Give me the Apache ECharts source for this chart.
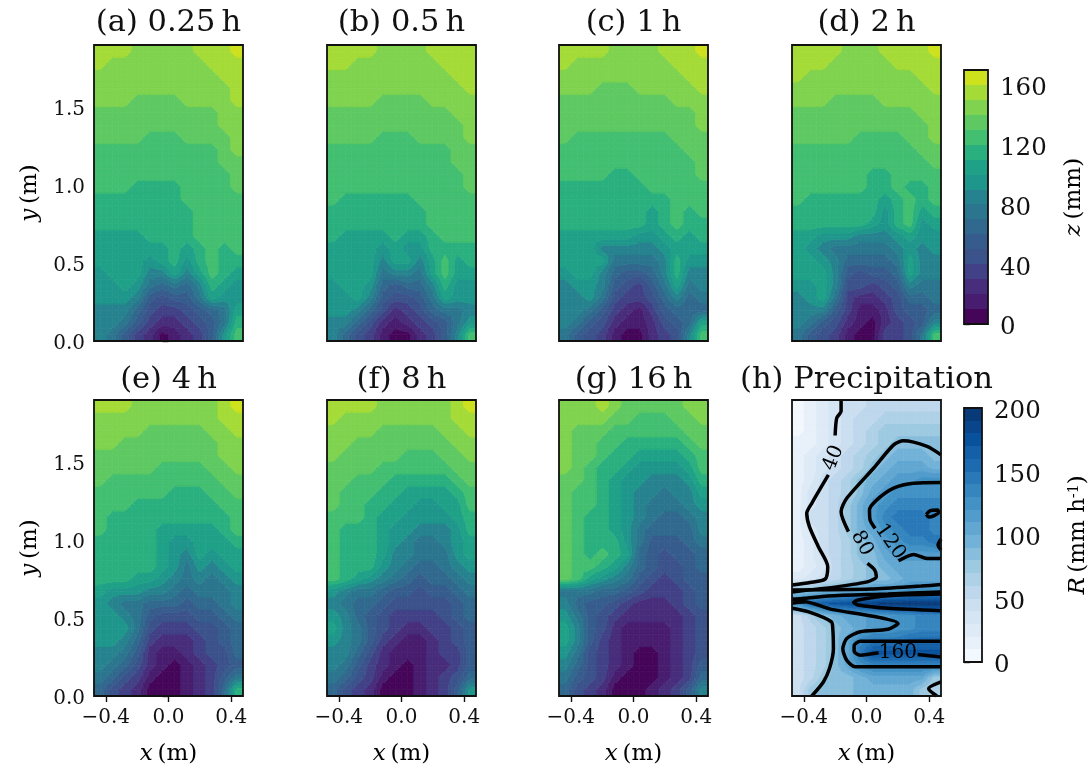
<!DOCTYPE html>
<html><head><meta charset="utf-8">
<style>html,body{margin:0;padding:0;background:#fff}#c{width:1091px;height:769px}</style>
<script src="https://cdn.jsdelivr.net/npm/echarts@6/dist/echarts.min.js"></script>
</head><body><div id="c"></div>
<script>
const panelTitles=['(a) 0.25\u2009h','(b) 0.5\u2009h','(c) 1\u2009h','(d) 2\u2009h','(e) 4\u2009h','(f) 8\u2009h','(g) 16\u2009h','(h) Precipitation'];
const xTicks=[-0.4,0,0.4];
const yTicks=[0,0.5,1,1.5];
const zTicks=[0,40,80,120,160];
const rTicks=[0,50,100,150,200];
const zColors=['#450559','#481c6e','#472d7b','#424086','#3b528b','#365c8d','#31688e','#2b758e','#26828e','#1f968b','#1fa188','#2ab07f','#43bf71','#5ec962','#7fd34e','#a5db36','#cde11d'];
const rColors=['#f2f8fd','#e8f1fa','#deebf7','#d5e5f4','#cbdff1','#bed7ec','#afd1e7','#9ecae1','#88bedc','#72b2d8','#61a7d2','#519ccc','#4292c6','#3585bf','#2979b9','#1c6bb0','#1460a8','#08519c','#08458a','#083a7a'];
const panelA=[
[155,155,155,145,145,145,145,145,155,155,155,165],
[155,145,145,145,145,145,145,145,145,155,155,155],
[145,145,145,145,145,145,145,145,145,145,155,155],
[145,145,145,145,145,145,145,145,145,145,145,155],
[145,145,145,135,135,135,135,145,145,145,145,155],
[135,135,135,135,135,135,135,135,135,135,145,145],
[135,135,135,135,135,135,135,135,135,135,145,145],
[135,135,135,135,125,125,125,135,135,135,135,145],
[125,125,125,125,125,125,125,125,125,125,135,145],
[125,125,125,125,125,125,125,125,125,125,135,135],
[125,125,125,125,125,125,125,125,125,125,125,135],
[125,125,125,115,115,115,115,125,125,125,125,135],
[115,115,115,115,115,115,115,125,125,125,125,125],
[115,115,115,115,115,115,115,115,125,125,125,125],
[115,115,115,115,115,115,115,115,125,125,125,125],
[105,105,105,105,115,115,115,115,125,125,125,125],
[105,105,105,105,105,105,115,105,115,125,115,125],
[105,105,105,105,95,105,115,95,115,125,115,115],
[95,105,105,105,85,85,105,85,105,125,115,105],
[95,95,105,95,75,65,75,65,85,115,105,95],
[95,95,95,85,55,45,55,55,75,105,95,95],
[85,85,85,65,45,35,35,45,55,65,75,105],
[85,85,75,55,35,25,25,35,45,55,75,115],
[85,75,55,35,25,5,15,25,35,55,95,125]];
const panelB=[
[155,155,155,155,145,145,145,145,155,155,155,155],
[155,155,145,145,145,145,145,145,145,155,155,155],
[145,145,145,145,145,145,145,145,145,145,155,155],
[145,145,145,145,145,145,145,145,145,145,145,155],
[145,145,145,145,135,135,135,135,145,145,145,145],
[135,135,135,135,135,135,135,135,135,135,145,145],
[135,135,135,135,135,135,135,135,135,135,135,145],
[135,135,135,135,125,125,125,135,135,135,135,145],
[125,125,125,125,125,125,125,125,125,125,135,135],
[125,125,125,125,125,125,125,125,125,125,135,135],
[125,125,125,125,125,125,125,125,125,125,125,135],
[125,125,125,125,125,125,125,125,125,125,125,135],
[125,115,115,115,115,115,115,125,125,125,125,125],
[115,115,115,115,115,115,115,115,125,125,125,125],
[115,115,115,115,115,115,115,115,125,125,125,125],
[115,105,105,105,105,115,105,105,115,125,125,125],
[105,105,105,105,95,105,95,95,115,115,115,115],
[105,105,105,105,85,105,105,85,105,125,105,115],
[105,105,105,105,75,85,85,75,105,125,105,105],
[95,105,105,95,65,55,65,65,85,115,95,95],
[95,95,105,85,55,45,45,55,75,105,95,95],
[95,95,85,65,45,25,35,45,65,75,75,85],
[85,85,65,45,25,15,25,35,45,55,75,95],
[85,65,45,35,15,5,5,25,35,55,85,125]];
const panelC=[
[155,155,155,155,145,145,145,145,155,155,155,165],
[155,145,145,145,145,145,145,145,145,155,155,155],
[145,145,145,145,145,145,145,145,145,145,155,155],
[145,145,145,135,135,135,145,145,145,145,145,155],
[135,135,135,135,135,135,135,135,135,145,145,145],
[135,135,135,135,135,135,135,135,135,135,135,145],
[135,135,135,135,135,135,135,135,135,135,135,145],
[135,125,125,125,125,125,125,125,125,135,135,135],
[125,125,125,125,125,125,125,125,125,125,135,135],
[125,125,125,125,125,125,125,125,125,125,125,135],
[125,125,125,125,115,115,125,125,125,125,125,135],
[115,115,115,115,115,115,115,125,125,125,125,125],
[115,115,115,115,115,115,115,115,115,125,125,125],
[115,115,115,115,115,115,115,105,115,125,115,125],
[115,115,115,115,115,115,115,105,115,125,115,115],
[105,105,105,105,105,105,95,95,105,115,105,115],
[105,105,105,85,85,85,85,85,95,105,105,105],
[105,105,105,105,75,75,75,75,85,115,95,95],
[95,105,105,85,65,55,55,65,85,115,85,85],
[85,95,95,85,55,45,35,55,75,105,75,85],
[85,85,95,75,45,35,35,45,65,85,65,75],
[85,85,75,55,35,25,15,35,55,65,65,65],
[85,75,55,45,25,15,15,25,45,55,65,105],
[75,55,45,35,15,5,5,25,35,45,85,125]];
const panelD=[
[155,155,155,155,145,145,145,155,155,155,155,165],
[155,155,155,145,145,145,145,145,155,155,155,155],
[155,145,145,145,145,145,145,145,145,145,155,155],
[145,145,145,145,145,145,145,145,145,145,145,155],
[145,145,145,135,135,135,135,145,145,145,145,145],
[135,135,135,135,135,135,135,135,135,135,145,145],
[135,135,135,135,135,135,135,135,135,135,135,145],
[135,135,135,135,135,125,125,125,125,135,135,145],
[125,125,125,125,125,125,125,125,125,125,135,135],
[125,125,125,125,125,125,125,125,125,125,125,135],
[125,125,125,125,125,125,115,115,125,125,125,125],
[125,125,125,125,125,125,115,115,125,115,115,125],
[125,115,115,115,115,115,115,105,115,125,115,125],
[115,115,115,115,115,115,115,95,115,125,105,115],
[115,115,115,115,115,115,105,95,115,125,95,105],
[105,105,95,95,95,85,85,85,95,105,95,95],
[105,95,85,75,75,75,75,75,85,95,85,95],
[105,105,95,85,65,65,65,65,75,105,85,85],
[105,105,105,85,55,45,55,55,65,105,85,85],
[95,95,105,85,45,45,35,45,55,85,75,75],
[85,95,105,75,35,25,25,35,45,65,65,75],
[85,85,85,55,35,15,15,25,45,55,55,65],
[85,75,55,45,25,15,5,25,35,45,55,85],
[75,55,45,35,15,5,5,35,35,45,75,125]];
const panelE=[
[155,155,155,145,145,145,145,145,145,145,155,165],
[145,145,145,145,145,145,145,145,145,145,155,155],
[145,145,145,145,135,135,135,135,135,145,145,155],
[145,145,135,135,135,135,135,135,135,135,145,145],
[135,135,135,135,135,135,135,135,135,135,145,145],
[135,135,135,135,135,125,125,125,125,135,135,145],
[135,125,125,125,125,125,125,125,125,125,135,135],
[125,125,125,125,125,125,115,115,115,125,125,135],
[125,125,125,115,115,115,115,115,115,115,125,125],
[125,115,115,115,115,115,115,115,115,115,115,125],
[125,115,115,115,115,105,105,105,105,105,115,125],
[115,115,115,115,115,105,95,95,105,105,105,115],
[115,115,115,115,115,105,95,85,105,95,105,105],
[115,115,115,115,115,105,95,75,95,85,95,105],
[115,115,115,105,105,95,85,75,85,75,85,95],
[105,95,95,95,85,85,75,65,75,75,75,85],
[95,85,75,75,65,65,65,55,65,65,75,85],
[95,95,85,75,55,45,45,45,55,55,65,75],
[95,95,95,75,45,35,35,35,45,45,55,65],
[95,95,85,65,35,25,25,25,35,45,55,65],
[85,85,75,55,25,15,15,25,35,45,45,65],
[85,75,65,45,25,15,5,15,25,35,45,55],
[75,65,45,35,15,5,5,15,25,35,55,75],
[65,45,35,25,5,5,5,15,25,35,65,115]];
const panelF=[
[155,155,155,155,145,145,145,145,145,145,155,165],
[155,145,145,145,145,145,145,145,145,145,155,155],
[145,145,145,145,135,135,135,135,135,145,145,155],
[145,145,135,135,135,135,135,135,135,135,145,145],
[145,135,135,135,135,135,125,125,125,135,135,145],
[135,135,135,135,125,125,125,125,125,125,135,135],
[135,135,125,125,125,115,115,115,115,115,125,135],
[135,125,125,125,115,115,105,105,105,105,115,125],
[135,125,125,115,115,105,105,95,95,105,105,125],
[125,125,125,115,105,105,95,95,95,95,105,115],
[125,115,115,115,105,95,95,85,85,85,95,115],
[125,115,115,115,105,95,85,75,75,85,95,105],
[125,115,115,115,105,85,85,75,75,75,95,105],
[125,115,115,115,95,85,75,65,65,75,85,95],
[125,115,105,95,85,75,65,55,65,65,75,85],
[95,85,75,75,65,55,55,45,55,55,65,75],
[85,75,65,65,55,45,45,45,45,45,55,65],
[95,85,65,55,45,35,35,35,35,45,55,65],
[105,85,75,55,45,35,25,25,35,35,45,55],
[95,85,75,55,35,25,15,15,25,35,45,55],
[85,85,65,45,25,15,15,15,25,35,35,55],
[85,75,55,35,25,15,5,15,25,25,35,55],
[75,65,45,35,15,5,5,15,25,35,45,65],
[65,45,35,25,5,5,5,15,25,35,55,95]];
const panelG=[
[145,145,145,155,145,135,135,135,135,135,145,145],
[145,145,145,145,135,135,125,125,125,135,135,145],
[145,135,135,135,125,125,125,125,125,125,135,135],
[145,135,135,125,125,115,115,115,115,115,125,135],
[145,135,135,125,115,115,105,105,105,105,115,125],
[145,135,125,115,115,105,95,95,95,95,105,125],
[135,135,125,115,105,95,95,85,85,85,95,115],
[135,125,125,115,105,95,85,85,75,85,85,105],
[135,125,125,115,105,95,85,75,75,75,85,95],
[135,125,115,115,105,95,85,75,65,65,75,85],
[135,125,115,115,105,95,75,65,65,65,65,85],
[135,125,115,115,115,95,75,55,55,55,65,75],
[135,125,115,125,115,105,65,55,45,55,55,65],
[135,125,125,115,105,85,65,55,45,45,55,65],
[135,125,105,95,85,75,55,45,35,45,55,55],
[75,75,75,65,65,55,45,35,35,35,45,55],
[85,65,55,55,45,35,25,25,25,35,45,55],
[95,75,55,45,35,25,25,25,25,25,35,45],
[105,85,55,45,25,15,15,15,15,25,35,45],
[105,85,55,35,25,15,15,15,15,25,35,45],
[95,75,45,35,25,15,5,5,15,25,35,45],
[85,65,45,35,25,15,5,5,15,25,35,55],
[75,55,45,35,15,5,5,5,15,25,35,65],
[65,45,35,25,5,5,5,15,25,35,55,85]];
const panelH=[
[5,15,25,35,45,45,55,55,55,55,55,55],
[5,15,25,35,45,55,55,65,65,65,65,65],
[5,15,25,35,45,55,65,75,75,75,75,75],
[15,15,25,35,45,55,65,75,85,85,85,85],
[15,25,35,45,55,65,75,85,95,95,95,85],
[15,25,35,45,55,65,85,95,105,105,105,95],
[15,25,45,55,65,85,95,105,115,115,125,125],
[15,35,45,55,65,85,105,115,125,125,125,125],
[15,35,45,55,75,95,115,125,135,135,135,135],
[15,45,45,55,75,95,115,135,145,145,145,135],
[15,35,45,55,75,95,105,125,135,145,145,135],
[15,25,45,55,65,85,95,115,125,135,135,145],
[15,25,45,55,65,85,85,105,115,115,115,115],
[15,25,35,55,65,75,85,95,105,105,105,105],
[25,35,45,55,65,75,85,85,95,105,105,105],
[85,85,95,95,105,105,115,115,115,125,125,125],
[125,155,165,175,175,185,185,195,195,195,195,195],
[45,65,85,95,105,105,115,115,125,125,135,135],
[45,55,65,85,95,105,115,115,125,125,135,135],
[45,55,65,85,105,135,145,145,145,155,155,155],
[45,55,65,85,105,145,175,175,175,175,175,175],
[45,55,65,85,105,125,135,135,135,135,135,135],
[45,55,75,85,85,95,105,105,105,105,105,75],
[45,75,85,85,85,95,95,95,95,95,75,65]];
const contour40a=[[-0.162,1.9],[-0.162,1.827],[-0.19,1.784],[-0.2,1.672]];
const contour40b=[[-0.243,1.419],[-0.349,1.237],[-0.381,1.173],[-0.364,1.087],[-0.307,0.958],[-0.247,0.83],[-0.264,0.75],[-0.36,0.729],[-0.475,0.712]];
const contour80a=[[0.475,1.548],[0.386,1.602],[0.236,1.638],[0.173,1.612],[0.045,1.462],[-0.126,1.269],[-0.162,1.183],[-0.115,1.055]];
const contour80b=[[0.006,0.851],[0.052,0.809],[0.063,0.766],[0.01,0.734],[-0.182,0.702],[-0.475,0.668]];
const contour80c=[[-0.475,0.563],[-0.373,0.541],[-0.224,0.477],[-0.215,0.433],[-0.211,0.304],[-0.236,0.176],[-0.275,0.09],[-0.349,0]];
const contour80d=[[0.475,0.09],[0.396,0.047],[0.449,0]];
const contour120a=[[0.475,1.37],[0.3,1.366],[0.173,1.334],[0.066,1.259],[0.019,1.194],[0.023,1.13],[0.055,1.076]];
const contour120b=[[0.204,0.868],[0.3,0.909],[0.386,0.883],[0.475,0.883]];
const contour120c=[[-0.475,0.681],[0.031,0.687],[0.349,0.706],[0.475,0.715]];
const contour120d=[[-0.475,0.621],[-0.394,0.627],[-0.245,0.642],[0.137,0.655],[0.475,0.668]];
const contour120e=[[-0.475,0.595],[-0.394,0.605],[-0.224,0.556],[0.031,0.514],[0.201,0.466],[0.137,0.428],[-0.04,0.412],[-0.126,0.369],[-0.151,0.304],[-0.126,0.229],[-0.072,0.187],[0.475,0.187]];
const contour120f=[[-0.475,0.621],[-0.394,0.605]];
const contour160a=[[0.475,0.655],[0.137,0.644],[-0.054,0.616],[-0.082,0.601],[-0.054,0.584],[0.137,0.563],[0.475,0.548]];
const contour160b=[[0.475,0.352],[-0.04,0.352],[-0.079,0.322],[-0.079,0.287],[-0.04,0.262],[0.077,0.277]];
const contour160c=[[0.326,0.266],[0.475,0.251]];
const contour160d=[[0.381,1.166],[0.407,1.19],[0.454,1.194],[0.46,1.179],[0.432,1.158],[0.396,1.149],[0.381,1.166]];
const contour160e=[[0.475,1.008],[0.456,0.969],[0.475,0.937]];
const contourLabels=[[-0.211,1.527,'40',68],[-0.03,0.98,'80',-62],[0.151,0.99,'120',-55],[0.2,0.279,'160',0]];

const serif='"DejaVu Serif"';
const panels=[panelA,panelB,panelC,panelD,panelE,panelF,panelG,panelH];
const contours=[contour40a,contour40b,contour80a,contour80b,contour80c,contour80d,contour120a,contour120b,contour120c,contour120d,contour120e,contour120f,contour160a,contour160b,contour160c,contour160d,contour160e];
const lefts=[94,327,559,792],tops=[45,400],titleTops=[3,360];
const XMAX=0.475,YMAX=1.9,PW=149,PH=296,TITLE=30.5,TICK=20,NAME=23,CBTICK=24.5;
const axisStyle={axisLine:{show:false},splitLine:{show:false}};
const grid=[],xAxis=[],yAxis=[],series=[],title=[];
const axisName=()=>({fontFamily:serif,fontSize:NAME,color:'#000',rich:{i:{fontFamily:serif,fontStyle:'italic',fontSize:NAME,color:'#000'},s:{fontFamily:serif,fontSize:14,color:'#000',verticalAlign:'top'}}});
function rectShape(api,x0,y0,x1,y1){
  const a=api.coord([x0,y0]),b=api.coord([x1,y1]);
  const l=Math.round(Math.min(a[0],b[0])),r=Math.round(Math.max(a[0],b[0]));
  const t=Math.round(Math.min(a[1],b[1])),d=Math.round(Math.max(a[1],b[1]));
  return {x:l,y:t,width:r-l,height:d-t};
}
function frameSeries(i){
  return {type:'custom',xAxisIndex:i,yAxisIndex:i,silent:true,z:6,clip:false,data:[[0,0]],
    renderItem:(p,api)=>({type:'rect',shape:{x:p.coordSys.x,y:p.coordSys.y,width:p.coordSys.width,height:p.coordSys.height},style:{fill:'none',stroke:'#111',lineWidth:1.8}})};
}
// Filled-contour drawing of a gridded field: each read cell paints its band regions, as contourf does.
function clipPoly(poly,level,keepAbove){
  const out=[];
  for(let i=0;i<poly.length;i++){
    const a=poly[i],b=poly[(i+1)%poly.length];
    const ina=keepAbove?a[2]>=level:a[2]<=level,inb=keepAbove?b[2]>=level:b[2]<=level;
    if(ina)out.push(a);
    if(ina!==inb){const t=(level-a[2])/(b[2]-a[2]);out.push([a[0]+t*(b[0]-a[0]),a[1]+t*(b[1]-a[1]),level]);}
  }
  return out;
}
function nodeField(rows){
  const nr=rows.length,nc=rows[0].length;
  const at=(r,c)=>rows[Math.max(0,Math.min(nr-1,r))][Math.max(0,Math.min(nc-1,c))];
  const f=[];
  for(let i=0;i<=2*nr;i++){f.push([]);for(let j=0;j<=2*nc;j++){
    const rs=i%2?[(i-1)/2]:[i/2-1,i/2],cs=j%2?[(j-1)/2]:[j/2-1,j/2];
    let s=0,n=0;rs.forEach(r=>cs.forEach(c=>{s+=at(r,c);n++;}));f[i].push(s/n);
  }}
  return f;
}
panels.forEach((rows,i)=>{
  const col=i%4,row=i<4?0:1,palette=i===7?rColors:zColors;
  grid.push({left:lefts[col],top:tops[row],width:PW,height:PH});
  title.push({text:panelTitles[i],left:lefts[col]+PW/2-5,top:titleTops[row],textAlign:'center',textStyle:{fontFamily:serif,fontWeight:'normal',fontSize:TITLE,color:'#111'}});
  const bottom=row===1;
  xAxis.push({type:'value',gridIndex:i,min:-XMAX,max:XMAX,...axisStyle,
    axisTick:{show:bottom,length:6,lineStyle:{color:'#111',width:1.4},customValues:xTicks},
    axisLabel:{show:bottom,customValues:xTicks,fontFamily:serif,fontSize:TICK,color:'#111',margin:12,formatter:v=>(v<0?'\u2212':'')+Math.abs(v).toFixed(1)},
    name:bottom?'{i|x}\u2009(m)':'',nameLocation:'middle',nameGap:47,nameTextStyle:axisName()});
  const leftCol=col===0;
  yAxis.push({type:'value',gridIndex:i,min:0,max:YMAX,...axisStyle,
    axisTick:{show:leftCol,length:6,lineStyle:{color:'#111',width:1.4},customValues:yTicks},
    axisLabel:{show:leftCol,customValues:yTicks,fontFamily:serif,fontSize:TICK,color:'#111',margin:9,verticalAlign:'top',lineHeight:5,formatter:v=>v.toFixed(1)},
    name:leftCol?'{i|y}\u2009(m)':'',nameLocation:'middle',nameGap:52,nameRotate:90,nameTextStyle:axisName()});
  const cells=[],nr=rows.length,nc=rows[0].length,dx=2*XMAX/nc,dy=YMAX/nr;
  rows.forEach((vals,r)=>vals.forEach((v,c)=>cells.push([-XMAX+(c+0.5)*dx,YMAX-(r+0.5)*dy,v])));
  const field=nodeField(rows);
  series.push({type:'custom',xAxisIndex:i,yAxisIndex:i,silent:true,data:cells,encode:{x:0,y:1},z:2,
    renderItem:(p,api)=>{
      const r=Math.floor(p.dataIndex/nc),c=p.dataIndex%nc,cx=api.value(0),cy=api.value(1),children=[];
      [[0,0],[0,1],[1,0],[1,1]].forEach(([a,b])=>{
        const node=(ii,jj)=>{const q=api.coord([cx+(jj-1)*dx/2,cy-(ii-1)*dy/2]);return [q[0],q[1],field[2*r+ii][2*c+jj]];};
        const quad=[node(a,b),node(a,b+1),node(a+1,b+1),node(a+1,b)];
        const vs=quad.map(q=>q[2]),lo=Math.min(...vs),hi=Math.max(...vs);
        for(let k=Math.floor(lo/10);k<=Math.floor(hi/10);k++){
          const poly=clipPoly(clipPoly(quad,k*10,true),(k+1)*10,false);
          if(poly.length<3)continue;
          const color=palette[Math.min(k,palette.length-1)];
          children.push({type:'polygon',shape:{points:poly.map(q=>[q[0],q[1]])},style:{fill:color,stroke:color,lineWidth:0.7}});
        }
      });
      return {type:'group',children};
    }});
  series.push(frameSeries(i));
});
contours.forEach(pts=>series.push({type:'line',xAxisIndex:7,yAxisIndex:7,data:pts,showSymbol:false,smooth:0.25,silent:true,z:4,lineStyle:{color:'#000',width:3.5},animation:false}));
series.push({type:'scatter',xAxisIndex:7,yAxisIndex:7,symbolSize:0,silent:true,z:5,itemStyle:{opacity:1},
  data:contourLabels.map(d=>({value:[d[0],d[1]],label:{show:true,position:'inside',formatter:d[2],rotate:d[3],fontFamily:serif,fontSize:20,color:'#000',opacity:1}}))});
function colorbar(idx,top,maxV,ticks,palette,name,gap){
  grid.push({left:964,top:top,width:24,height:254});
  xAxis.push({type:'value',gridIndex:idx,min:0,max:1,show:false});
  yAxis.push({type:'value',gridIndex:idx,position:'right',min:0,max:maxV,...axisStyle,
    axisTick:{show:true,length:6,lineStyle:{color:'#111',width:1.4},customValues:ticks},
    axisLabel:{show:true,customValues:ticks,fontFamily:serif,fontSize:CBTICK,color:'#111',margin:12,verticalAlign:'top',lineHeight:8},
    name:name,nameLocation:'middle',nameGap:gap,nameRotate:90,nameTextStyle:axisName()});
  const step=maxV/palette.length;
  series.push({type:'custom',xAxisIndex:idx,yAxisIndex:idx,silent:true,data:palette.map((_,k)=>[0.5,k*step,k]),encode:{y:1},
    renderItem:(p,api)=>{
      const k=api.value(2);
      return {type:'rect',shape:rectShape(api,0,k*step,1,(k+1)*step),style:{fill:palette[k]}};
    }});
  series.push(frameSeries(idx));
}
colorbar(8,70,170,zTicks,zColors,'{i|z}\u2009(mm)',75);
colorbar(9,408,200,rTicks,rColors,'{i|R}\u2009(mm h{s|-1})',85);
const chart=echarts.init(document.getElementById('c'),null,{renderer:'canvas'});
chart.setOption({animation:false,backgroundColor:'#fff',title,grid,xAxis,yAxis,series});
</script></body></html>
